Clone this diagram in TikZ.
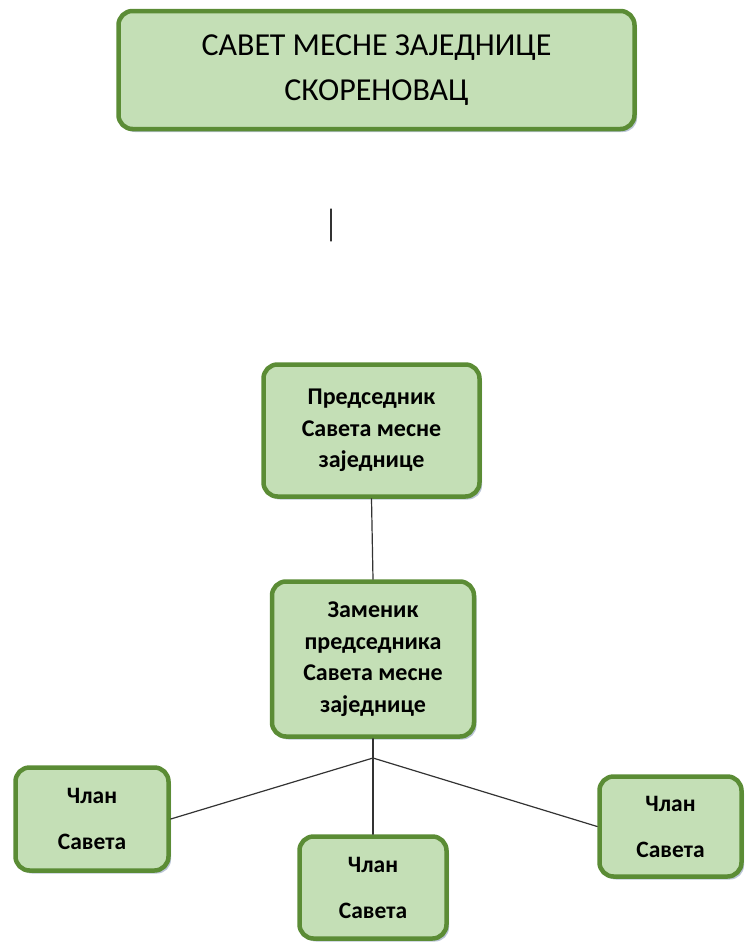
\documentclass[tikz,border=0pt]{standalone}
\usepackage{fontspec}
\setmainfont{Carlito}
\usetikzlibrary{shadows}
\definecolor{boxfill}{HTML}{C4DFB6}
\definecolor{boxline}{HTML}{5B8C35}
\definecolor{shade}{HTML}{A9B6CC}
\tikzset{
  box/.style={draw=boxline, line width=4.5pt, fill=boxfill, rounded corners=14pt,
    align=center, inner sep=0pt,
    drop shadow={shadow xshift=2.5pt, shadow yshift=-3pt, fill=shade, opacity=0.8}},
  bigtext/.style={font=\fontsize{32}{45}\selectfont},
  smalltext/.style={font=\bfseries\fontsize{24}{31.5}\selectfont},
  membertext/.style={font=\bfseries\fontsize{23.5}{46}\selectfont},
  link/.style={draw=black!80, line width=1.2pt}
}
\begin{document}
\begin{tikzpicture}[x=1pt, y=-1pt, line join=round, line cap=round]
\useasboundingbox (0,0) rectangle (745,943);
\node[box, bigtext, minimum width=516, minimum height=118] (savet) at (376.5,70)
  {САВЕТ МЕСНЕ ЗАЈЕДНИЦЕ\\СКОРЕНОВАЦ};
\draw[link] (331,209)--(331,241);
\node[box, smalltext, minimum width=216, minimum height=132] (pred) at (371.5,430.5)
  {Председник\\Савета месне\\заједнице};
\node[box, smalltext, minimum width=202, minimum height=155] (zam) at (373,659)
  {Заменик\\председника\\Савета месне\\заједнице};
\node[box, membertext, minimum width=153, minimum height=103] (clan1) at (92,819)
  {Члан\\Савета};
\node[box, membertext, minimum width=147, minimum height=102] (clan2) at (373,887.5)
  {Члан\\Савета};
\node[box, membertext, minimum width=142, minimum height=100] (clan3) at (670.5,826.5)
  {Члан\\Савета};
\coordinate (hub) at (373,758);
\draw[link] (pred.south) -- (zam.north);
\draw[link] (zam.south) -- (hub);
\draw[link] (hub) -- (clan1.east);
\draw[link] (hub) -- (clan2.north);
\draw[link] (hub) -- (clan3.west);
\end{tikzpicture}
\end{document}
